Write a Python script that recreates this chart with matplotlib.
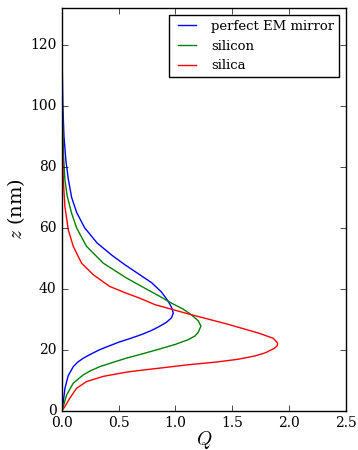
import matplotlib
matplotlib.use('Agg')
import matplotlib.pyplot as plt

# z (nm) and Q
z_mirror = [0, 3, 7.5, 11.5, 14.5, 16, 17.3, 18.7, 20, 21.2, 22.5, 23.7, 25, 26.2,
            27.5, 29, 30.5, 32, 33.5, 35, 36.5, 39, 42, 45, 48, 51, 55, 60, 65, 70,
            76, 82, 90, 100, 115, 132]
q_mirror = [0, 0.012, 0.027, 0.055, 0.10, 0.14, 0.19, 0.26, 0.33, 0.41, 0.50, 0.60,
            0.70, 0.78, 0.85, 0.92, 0.965, 0.98, 0.97, 0.95, 0.925, 0.875, 0.79,
            0.67, 0.55, 0.44, 0.31, 0.20, 0.13, 0.085, 0.056, 0.035, 0.018, 0.008,
            0.002, 0.0]

z_silicon = [0, 1.4, 5.2, 9.1, 11.8, 13.2, 14.5, 15.9, 17.3, 18.8, 20.3, 21.8, 23.3,
             24.5, 25.7, 27.8, 29.5, 31.5, 33.5, 35.3, 37.5, 40, 43.5, 48.4, 53.9,
             59.9, 64.8, 70.3, 75.7, 83, 95, 110, 132]
q_silicon = [0, 0.012, 0.041, 0.10, 0.188, 0.255, 0.334, 0.45, 0.57, 0.72, 0.863,
             1.0, 1.11, 1.17, 1.20, 1.224, 1.20, 1.14, 1.06, 0.965, 0.863, 0.74,
             0.57, 0.364, 0.217, 0.13, 0.085, 0.047, 0.026, 0.015, 0.006, 0.002, 0.0]

z_silica = [0, 1.4, 4.2, 7.4, 9.6, 11.3, 12.7, 13.4, 14, 15.1, 16, 16.9, 18, 19,
            20.5, 21.3, 22.2, 23.8, 25.5, 28.5, 31.5, 34.8, 36.9, 38.8, 40.8, 44.6,
            48.4, 53.9, 59.3, 67, 75.7, 85, 100, 132]
q_silica = [0, 0.026, 0.07, 0.129, 0.217, 0.364, 0.57, 0.72, 0.86, 1.11, 1.36, 1.55,
            1.70, 1.79, 1.87, 1.895, 1.90, 1.86, 1.73, 1.45, 1.14, 0.82, 0.687, 0.55,
            0.42, 0.276, 0.173, 0.10, 0.056, 0.026, 0.012, 0.006, 0.002, 0.0]

labels = ['perfect EM mirror', 'silicon', 'silica']

plt.style.use('classic')
plt.rcParams['font.family'] = 'DejaVu Serif'
plt.rcParams['mathtext.fontset'] = 'cm'

fig = plt.figure(figsize=(3.58, 4.5), dpi=100, facecolor='white')
ax = fig.add_axes([0.173, 0.087, 0.793, 0.895])

ax.plot(q_mirror, z_mirror, color='b', lw=1, label=labels[0])
ax.plot(q_silicon, z_silicon, color='g', lw=1, label=labels[1])
ax.plot(q_silica, z_silica, color='r', lw=1, label=labels[2])

ax.set_xlim(0, 2.5)
ax.set_ylim(0, 132)
ax.set_xticks([0, 0.5, 1.0, 1.5, 2.0, 2.5])
ax.set_yticks([0, 20, 40, 60, 80, 100, 120])
ax.tick_params(labelsize=10)
ax.set_xlabel('$Q$', fontsize=14, labelpad=-1)
ax.set_ylabel('$z$ (nm)', fontsize=14, labelpad=2)

ax.legend(loc='upper right', fontsize=9.5, handlelength=2)

fig.savefig('out.png', dpi=100, facecolor='white')
